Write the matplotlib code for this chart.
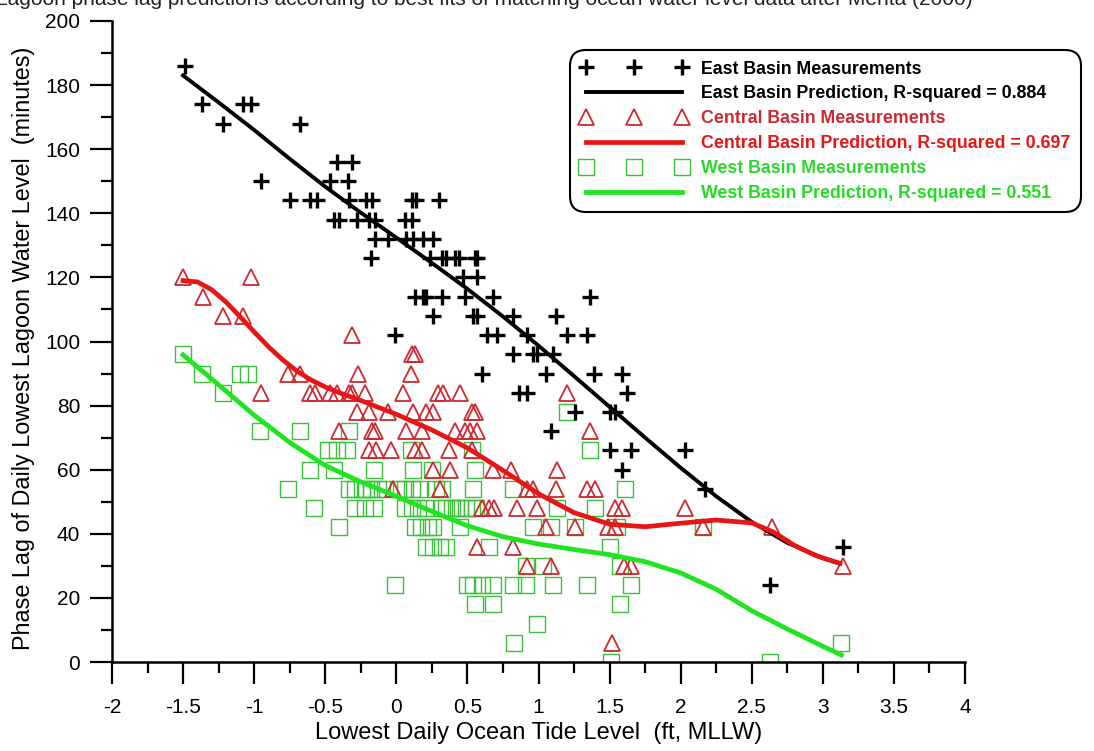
import matplotlib
matplotlib.use("Agg")
from matplotlib import pyplot as plt
from matplotlib.lines import Line2D
from matplotlib.ticker import MultipleLocator

plt.rcParams['font.family'] = ['Liberation Sans', 'DejaVu Sans']

# measured phase lags (minutes) vs lowest daily ocean tide (ft, MLLW)
east_x = [-1.49,
          -1.37, -1.08, -1.02,
          -1.22, -0.68,
          -0.42, -0.31,
          -0.95, -0.47, -0.34,
          -0.75, -0.61, -0.56, -0.33, -0.21, -0.17, 0.11, 0.14, 0.30,
          -0.44, -0.40, -0.28, -0.19, -0.15, 0.06, 0.11,
          -0.15, -0.06, 0.07, 0.12, 0.19, 0.26,
          -0.18, 0.24, 0.32, 0.35, 0.41, 0.44, 0.55, 0.57,
          0.47, 0.57,
          0.13, 0.19, 0.21, 0.32, 0.48, 0.68, 1.36,
          0.26, 0.54, 0.57, 0.82, 1.12,
          -0.01, 0.64, 0.71, 0.92, 1.20, 1.34,
          0.82, 0.96, 0.99, 1.10,
          0.60, 1.05, 1.39, 1.59,
          0.86, 0.92, 1.62,
          1.26, 1.50, 1.54,
          1.09,
          1.50, 1.65, 2.03,
          1.59,
          2.17,
          3.14,
          2.63]
east_y = [186,
          174, 174, 174,
          168, 168,
          156, 156,
          150, 150, 150,
          144, 144, 144, 144, 144, 144, 144, 144, 144,
          138, 138, 138, 138, 138, 138, 138,
          132, 132, 132, 132, 132, 132,
          126, 126, 126, 126, 126, 126, 126, 126,
          120, 120,
          114, 114, 114, 114, 114, 114, 114,
          108, 108, 108, 108, 108,
          102, 102, 102, 102, 102, 102,
          96, 96, 96, 96,
          90, 90, 90, 90,
          84, 84, 84,
          78, 78, 78,
          72,
          66, 66, 66,
          60,
          54,
          36,
          24]

central_x = [-1.50, -1.02,
             -1.36,
             -1.22, -1.08,
             -0.31,
             0.11, 0.13,
             -0.76, -0.68, -0.27, 0.10,
             -0.95, -0.61, -0.57, -0.47, -0.42, -0.33, -0.31, -0.22, 0.05, 0.29, 0.33, 0.45, 1.20,
             -0.28, -0.19, -0.06, 0.12, 0.21, 0.26, 0.53, 0.55,
             -0.40, -0.17, -0.15, 0.07, 0.18, 0.41, 0.48, 0.52, 0.57, 1.36,
             -0.19, -0.14, -0.04, 0.13, 0.18, 0.37, 0.53,
             0.26, 0.38, 0.68, 0.81, 1.13,
             -0.02, 0.31, 0.92, 0.96, 1.12, 1.34, 1.40,
             0.60, 0.65, 0.69, 0.85, 0.99, 1.54, 1.59, 2.03,
             1.05, 1.26, 1.49, 1.54, 2.16, 2.64,
             0.57, 0.82,
             0.92, 1.09, 1.60, 1.65, 3.14,
             1.52]
central_y = [120, 120,
             114,
             108, 108,
             102,
             96, 96,
             90, 90, 90, 90,
             84, 84, 84, 84, 84, 84, 84, 84, 84, 84, 84, 84, 84,
             78, 78, 78, 78, 78, 78, 78, 78,
             72, 72, 72, 72, 72, 72, 72, 72, 72, 72,
             66, 66, 66, 66, 66, 66, 66,
             60, 60, 60, 60, 60,
             54, 54, 54, 54, 54, 54, 54,
             48, 48, 48, 48, 48, 48, 48, 48,
             42, 42, 42, 42, 42, 42,
             36, 36,
             30, 30, 30, 30, 30,
             6]

west_x = [-1.50,
          -1.37, -1.10, -1.04,
          -1.22,
          1.20,
          -0.96, -0.68, -0.33,
          -0.48, -0.42, -0.35, 0.10, 0.53, 1.36,
          -0.61, -0.44, -0.16, 0.12, 0.25, 0.55,
          -0.76, -0.33, -0.29, -0.24, -0.21, -0.18, -0.13, -0.08, 0.01, 0.06, 0.11, 0.16,
          0.28, 0.32, 0.54, 0.82, 1.61,
          -0.58, -0.29, -0.22, -0.16, 0.06, 0.11, 0.15, 0.20, 0.32, 0.35, 0.39, 0.42,
          0.45, 0.49, 0.53, 0.56, 1.13, 1.40,
          -0.40, 0.13, 0.17, 0.22, 0.26, 0.45, 0.96, 1.09, 1.26, 1.55, 2.16,
          0.21, 0.26, 0.31, 0.35, 0.65, 1.50,
          0.91, 1.03, 1.57,
          -0.01, 0.50, 0.54, 0.60, 0.68, 0.82, 0.91, 1.10, 1.34, 1.65,
          0.55, 0.68, 1.57,
          0.99,
          0.83, 3.13,
          1.51, 2.63]
west_y = [96,
          90, 90, 90,
          84,
          78,
          72, 72, 72,
          66, 66, 66, 66, 66, 66,
          60, 60, 60, 60, 60, 60,
          54, 54, 54, 54, 54, 54, 54, 54, 54, 54, 54, 54,
          54, 54, 54, 54, 54,
          48, 48, 48, 48, 48, 48, 48, 48, 48, 48, 48, 48,
          48, 48, 48, 48, 48, 48,
          42, 42, 42, 42, 42, 42, 42, 42, 42, 42, 42,
          36, 36, 36, 36, 36, 36,
          30, 30, 30,
          24, 24, 24, 24, 24, 24, 24, 24, 24, 24,
          18, 18, 18,
          12,
          6, 6,
          0, 0]

# prediction curves
east_fit_x = [-1.5, -1.25, -1.0, -0.75, -0.5, -0.25, 0, 0.25, 0.5, 0.75, 1.0,
              1.25, 1.5, 1.75, 2.0, 2.25, 2.5, 2.75, 3.0, 3.12]
east_fit_y = [183, 174.6, 166.0, 157.0, 148.3, 140.2, 132.4, 124.5, 116.4, 107.8, 98.7,
              89.2, 79.6, 70.0, 60.6, 51.7, 43.7, 37.2, 32.4, 30.7]

central_fit_x = [-1.5, -1.4, -1.3, -1.2, -1.1, -1.0, -0.9, -0.8, -0.7, -0.6, -0.5,
                 -0.4, -0.25, -0.1, 0, 0.25, 0.5, 0.75, 1.0, 1.25, 1.5, 1.75,
                 2.0, 2.25, 2.5, 2.65, 2.8, 2.95, 3.12]
central_fit_y = [119.0, 118.6, 116.2, 112.4, 107.8, 103.0, 98.4, 94.3, 90.8, 88.0, 85.8,
                 84.0, 81.6, 79.0, 77.3, 72.4, 66.8, 59.8, 52.5, 46.6, 43.0, 42.2,
                 43.3, 44.3, 43.4, 40.6, 36.4, 33.2, 30.8]

west_fit_x = [-1.5, -1.25, -1.0, -0.75, -0.5, -0.25, 0, 0.25, 0.5, 0.75, 1.0,
              1.25, 1.5, 1.75, 2.0, 2.25, 2.5, 2.75, 3.0, 3.13]
west_fit_y = [95.8, 86.5, 77.0, 68.5, 61.3, 56.2, 51.7, 47.0, 42.5, 39.1, 36.8,
              35.1, 33.5, 31.3, 27.8, 22.7, 16.0, 10.3, 4.9, 2.2]

east_label = "East Basin Measurements"
east_fit_label = "East Basin Prediction, R-squared = 0.884"
central_label = "Central Basin Measurements"
central_fit_label = "Central Basin Prediction, R-squared = 0.697"
west_label = "West Basin Measurements"
west_fit_label = "West Basin Prediction, R-squared = 0.551"

tri_col = '#cc2a30'
sq_col = '#3cbf3c'
red_line = '#e81515'
green_line = '#1fe41f'

fig = plt.figure(figsize=(10.94, 7.51), dpi=100)
ax = fig.add_axes([112 / 1094, 1 - 662 / 751, 853 / 1094, 641 / 751])

# cut-off title at the top of the original image
fig.text(-0.004, 1 - 5 / 751,
         "Lagoon phase lag predictions according to best fits of matching ocean water level data after Mehta (2000)",
         fontsize=15, va='baseline', ha='left', color='#222222')

ax.plot(west_x, west_y, ls='none', marker='s', ms=11, mfc='none', mec=sq_col, mew=1.0)
ax.plot(central_x, central_y, ls='none', marker='^', ms=11, mfc='none', mec=tri_col, mew=1.3)
ax.plot(east_x, east_y, ls='none', marker='+', ms=12, mec='black', mew=2.4)

ax.plot(east_fit_x, east_fit_y, color='black', lw=2.8, solid_joinstyle='round')
ax.plot(central_fit_x, central_fit_y, color=red_line, lw=3.4, solid_joinstyle='round')
ax.plot(west_fit_x, west_fit_y, color=green_line, lw=3.4, solid_joinstyle='round')

ax.set_xlim(-2, 4)
ax.set_ylim(0, 200)
ax.xaxis.set_major_locator(MultipleLocator(0.5))
ax.xaxis.set_minor_locator(MultipleLocator(0.25))
ax.yaxis.set_major_locator(MultipleLocator(20))
ax.yaxis.set_minor_locator(MultipleLocator(10))
ax.xaxis.set_major_formatter(plt.FuncFormatter(lambda v, p: f"{v:g}"))

for s in ['top', 'right']:
    ax.spines[s].set_visible(False)
for s in ['left', 'bottom']:
    ax.spines[s].set_linewidth(1.8)
    ax.spines[s].set_clip_on(False)

ax.tick_params(axis='both', which='major', length=16, width=1.6, labelsize=15)
ax.tick_params(axis='both', which='minor', length=8, width=1.6)
ax.tick_params(axis='x', which='major', pad=10)
ax.tick_params(axis='y', which='major', pad=7)

ax.set_xlabel("Lowest Daily Ocean Tide Level  (ft, MLLW)", fontsize=17)
ax.set_ylabel("Phase Lag of Daily Lowest Lagoon Water Level  (minutes)", fontsize=16.8)
ax.xaxis.set_label_coords(0.5, -0.094)
ax.yaxis.set_label_coords(-0.090, 0.49)

handles = [
    Line2D([], [], ls='none', marker='+', ms=12, mec='black', mew=2.4),
    Line2D([], [], color='black', lw=2.8),
    Line2D([], [], ls='none', marker='^', ms=11, mfc='none', mec=tri_col, mew=1.3),
    Line2D([], [], color=red_line, lw=3.4),
    Line2D([], [], ls='none', marker='s', ms=11, mfc='none', mec=sq_col, mew=1.0),
    Line2D([], [], color=green_line, lw=3.4),
]
labels = [east_label, east_fit_label, central_label, central_fit_label, west_label, west_fit_label]
leg = ax.legend(handles, labels, loc='upper left',
                bbox_to_anchor=(570 / 1094, 1 - 50 / 751), bbox_transform=fig.transFigure,
                borderaxespad=0, numpoints=3, handlelength=6.0, handletextpad=0.75,
                labelspacing=0.44, borderpad=0.6, frameon=True, fancybox=True,
                prop={'size': 12.8, 'weight': 'bold'},
                labelcolor=['black', 'black', tri_col, red_line, '#2fd62f', '#22dd22'])
frame = leg.get_frame()
frame.set_edgecolor('black')
frame.set_linewidth(1.5)
frame.set_facecolor('white')
frame.set_alpha(1)
frame.set_boxstyle('round,pad=0,rounding_size=0.9')

fig.savefig('out.png', dpi=100)
